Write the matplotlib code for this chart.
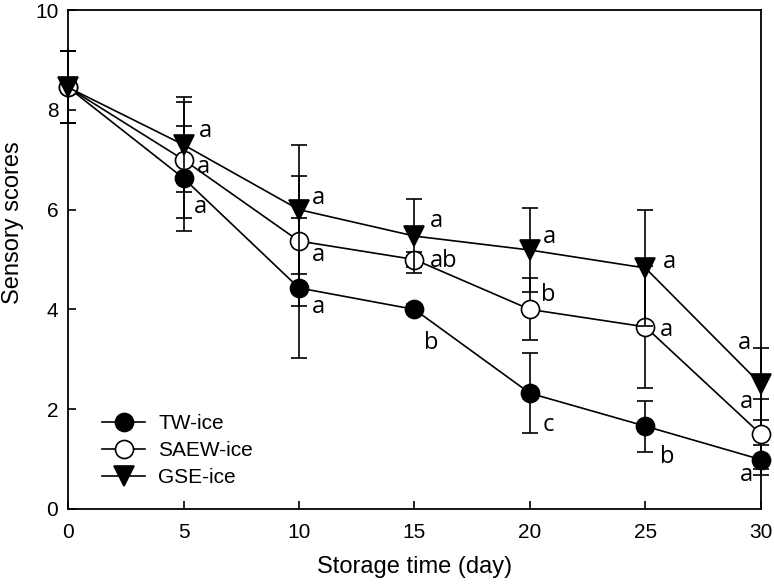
import matplotlib
matplotlib.use("Agg")
import matplotlib.pyplot as plt

# ── data ──────────────────────────────────────────────────────────────
days = [0, 5, 10, 15, 20, 25, 30]

tw_mean = [8.45, 6.63, 4.43, 4.0, 2.32, 1.66, 0.99]
tw_err = [0.72, 1.05, 1.41, 0.1, 0.8, 0.51, 0.3]
tw_sig = [None, "a", "a", "b", "c", "b", "a"]

saew_mean = [8.45, 7.0, 5.37, 5.0, 4.0, 3.65, 1.5]
saew_err = [0.72, 1.16, 1.3, 0.15, 0.62, 1.22, 0.7]
saew_sig = [None, "a", "a", "ab", "b", "a", "a"]

gse_mean = [8.45, 7.3, 6.0, 5.47, 5.19, 4.83, 2.5]
gse_err = [0.72, 0.95, 1.3, 0.74, 0.84, 1.17, 0.72]
gse_sig = [None, "a", "a", "a", "a", "a", "a"]

# letter offsets from the point, in pixels (dx right, dy up)
tw_off = [None, (17, -29), (19, -19), (17, -34), (18, -32), (22, -31), (-14, -15)]
saew_off = [None, (20, -7), (19, -14), (29, -1), (18, 14), (21, -3), (-14, 32)]
gse_off = [None, (22, 14), (19, 12), (22, 15), (20, 13), (24, 6), (-16, 41)]

# ── figure ────────────────────────────────────────────────────────────
fig = plt.figure(figsize=(7.74, 5.87), dpi=100)
ax = fig.add_axes([0.0879, 0.1329, 0.8951, 0.850])

series = [
    ("TW-ice", tw_mean, tw_err, tw_sig, tw_off, "o", "black"),
    ("SAEW-ice", saew_mean, saew_err, saew_sig, saew_off, "o", "white"),
    ("GSE-ice", gse_mean, gse_err, gse_sig, gse_off, "v", "black"),
]

handles = []
for i, (name, mean, err, sig, off, mk, fc) in enumerate(series):
    eb = ax.errorbar(days, mean, yerr=err, color="black", lw=1.2,
                     elinewidth=1.2, capsize=6, capthick=1.2,
                     marker=mk, markersize=13 if mk == "o" else 14,
                     markerfacecolor=fc, markeredgecolor="black",
                     markeredgewidth=1.2, zorder=3 + i, clip_on=False,
                     label=name)
    for line in eb.lines[1] + tuple(eb.lines[2]):
        line.set_clip_on(False)
    handles.append(eb)
    for x, y, s, o in zip(days, mean, sig, off):
        if s is None:
            continue
        ax.annotate(s, (x, y), xytext=o, textcoords="offset pixels",
                    ha="center", va="center", fontsize=17,
                    fontfamily="Open Sans", zorder=10)

ax.set_xlim(0, 30)
ax.set_ylim(0, 10)
ax.set_xticks(range(0, 31, 5))
ax.set_yticks(range(0, 11, 2))
ax.tick_params(direction="in", length=6, width=1.2, labelsize=15)
ax.tick_params(axis="x", pad=10)
ax.tick_params(axis="y", pad=7)
for lab in ax.get_xticklabels() + ax.get_yticklabels():
    lab.set_fontfamily("Liberation Sans")
for spine in ax.spines.values():
    spine.set_linewidth(1.3)

fig.text(414.5 / 774, 1 - 567 / 587, "Storage time (day)", fontsize=17,
         fontfamily="Liberation Sans", ha="center", va="center")
fig.text(13 / 774, 1 - 223 / 587, "Sensory scores", fontsize=17,
         fontfamily="Liberation Sans", rotation=90, ha="center", va="center")

leg = ax.legend(handles=[h.lines[0] for h in handles],
                labels=[s[0] for s in series],
                loc="upper left", bbox_to_anchor=(0.049, 0.19),
                borderaxespad=0, borderpad=0,
                frameon=False, handlelength=2.07, handletextpad=0.62,
                labelspacing=0.38, prop={"family": "Liberation Sans", "size": 15})

fig.savefig("out.png", dpi=100)
